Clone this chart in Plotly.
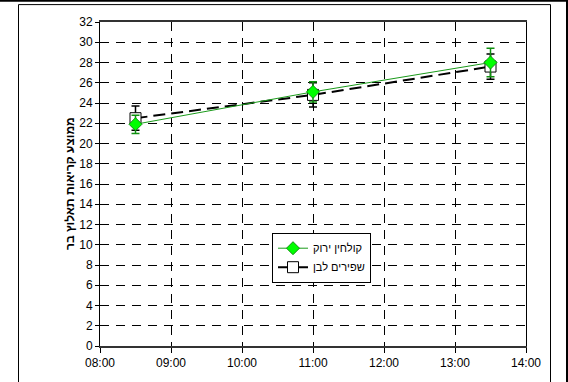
import plotly.graph_objects as go

# Measurement times and mean readings per treatment
times = ["2000-01-01 08:30", "2000-01-01 11:00", "2000-01-01 13:30"]
green_name = "קולחין ירוק"
green_vals = [21.9, 25.1, 28.0]
green_err = [0.9, 1.0, 1.4]
white_name = "שפירים לבן"
white_vals = [22.5, 24.8, 27.6]
white_err = [1.2, 1.2, 1.25]
y_title = "ממוצע קריאות תאלוץ בר"

W, H = 568, 382
L, R, T, B = 100, 42, 22, 34
pw, ph = W - L - R, H - T - B


def px_x(px):
    return (px - L) / pw


def px_y(py):
    return (H - B - py) / ph


fig = go.Figure()

fig.add_trace(go.Scatter(
    x=times, y=white_vals, name=white_name, mode="lines+markers",
    line=dict(color="black", width=2, dash="12px,6px"),
    marker=dict(symbol="square", size=11, color="white",
                line=dict(color="black", width=1)),
    error_y=dict(type="data", array=white_err, color="black",
                 thickness=1.5, width=4),
    legendrank=2,
))
fig.add_trace(go.Scatter(
    x=times, y=green_vals, name=green_name, mode="lines+markers",
    line=dict(color="#1a9a1a", width=1),
    marker=dict(symbol="diamond", size=10, color="#00ff00",
                line=dict(color="#109010", width=1)),
    error_y=dict(type="data", array=green_err, color="#109010",
                 thickness=1.5, width=4),
    legendrank=1,
))

font = dict(family="Arial, Liberation Sans, sans-serif", size=12, color="black")

fig.update_layout(
    width=W, height=H,
    margin=dict(l=L, r=R, t=T, b=B),
    paper_bgcolor="white", plot_bgcolor="white",
    font=font,
    showlegend=True,
    legend=dict(
        x=px_x(272), y=px_y(234), xanchor="left", yanchor="top",
        bgcolor="white", bordercolor="black", borderwidth=1,
        font=dict(family="Arial, Liberation Sans, sans-serif", size=11),
        tracegroupgap=0, itemwidth=30, itemsizing="trace",
    ),
    xaxis=dict(
        type="date",
        range=["2000-01-01 08:00", "2000-01-01 14:00"],
        dtick=3600000, tickformat="%H:%M",
        showgrid=True, gridcolor="black", gridwidth=1, griddash="9px,7px",
        showline=True, linecolor="#333333", linewidth=2, mirror=True,
        ticks="outside", ticklen=5, tickcolor="black",
        zeroline=False, tickfont=font,
    ),
    yaxis=dict(
        range=[0, 32], dtick=2,
        showgrid=True, gridcolor="black", gridwidth=1, griddash="9px,7px",
        showline=True, linecolor="black", linewidth=1, mirror=True,
        ticks="outside", ticklen=4, tickcolor="black",
        zeroline=False, tickfont=font,
    ),
)

fig.add_annotation(
    text="<b>" + y_title + "</b>", textangle=-90,
    xref="paper", yref="paper", x=px_x(70), y=0.5,
    xanchor="center", yanchor="middle", showarrow=False,
    font=dict(family="Arial, Liberation Sans, sans-serif", size=12, color="black"),
)

# Outer chart frame and page edges
fig.add_shape(type="rect", xref="paper", yref="paper",
              x0=px_x(18.5), x1=px_x(550.5), y0=px_y(400), y1=px_y(4.5),
              line=dict(color="black", width=1), layer="below")
fig.add_shape(type="line", xref="paper", yref="paper",
              x0=px_x(0), x1=px_x(568), y0=px_y(0.5), y1=px_y(0.5),
              line=dict(color="black", width=2))
fig.add_shape(type="line", xref="paper", yref="paper",
              x0=px_x(567), x1=px_x(567), y0=px_y(0), y1=px_y(400),
              line=dict(color="black", width=2))

fig.write_html("out.html")
